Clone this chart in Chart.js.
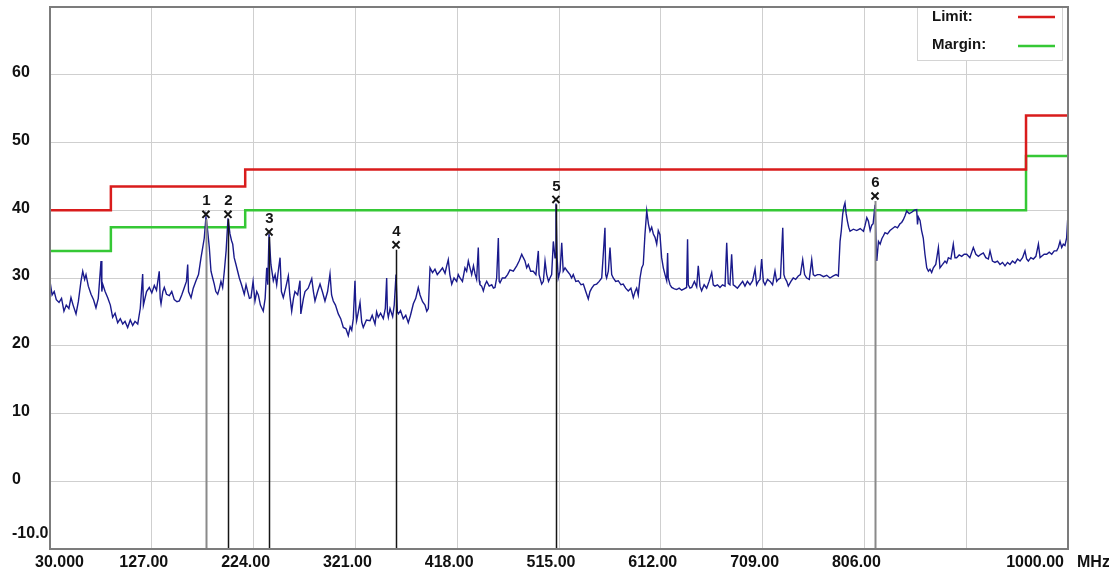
<!DOCTYPE html>
<html>
<head>
<meta charset="utf-8">
<script src="https://cdn.jsdelivr.net/npm/chart.js@4.4.1/dist/chart.umd.min.js"></script>
<style>
  html, body { margin: 0; padding: 0; background: #fff; }
  #wrap { width: 1109px; height: 574px; }
</style>
</head>
<body>
<div id="wrap"><canvas id="chartEmision" width="1109" height="574"></canvas></div>
<script>
// Barrido 30 MHz - 1 GHz (MHz / dBuV/m)
const traceFreq = [
  30.0, 32.0, 34.0, 36.0, 38.6, 41.0, 43.3, 45.5, 48.0, 50.0,
  52.0, 54.8, 57.0, 59.5, 61.2, 63.0, 64.3, 66.5, 69.1, 71.5,
  73.8, 76.0, 78.6, 79.4, 80.2, 82.5, 85.0, 87.5, 89.7, 92.0,
  94.5, 97.0, 99.3, 101.5, 104.0, 106.5, 108.8, 111.0, 113.6, 116.0,
  118.3, 119.0, 119.9, 122.0, 124.6, 127.0, 129.4, 131.5, 134.1, 135.0,
  135.8, 137.5, 138.9, 141.0, 143.7, 146.0, 148.4, 151.0, 153.2, 155.5,
  158.0, 160.0, 161.2, 162.0, 164.4, 166.5, 169.1, 171.5, 173.9, 175.5,
  177.0, 178.6, 180.2, 181.8, 183.4, 185.0, 186.5, 188.0, 189.8, 191.5,
  192.9, 194.5, 196.1, 197.8, 199.6, 201.5, 203.0, 204.1, 205.5, 207.2,
  208.8, 210.4, 212.5, 215.1, 216.8, 218.4, 220.0, 221.5, 223.5, 225.3,
  227.0, 228.5, 230.5, 233.2, 235.0, 236.5, 237.5, 238.7, 240.5, 242.8,
  244.5, 246.0, 247.5, 249.2, 250.5, 252.3, 254.5, 257.1, 258.5, 260.3,
  262.0, 263.4, 266.0, 268.2, 269.0, 271.5, 273.0, 276.0, 279.4, 281.0,
  282.5, 285.0, 287.3, 289.5, 292.0, 294.5, 296.8, 298.3, 299.9, 302.0,
  304.7, 307.0, 309.5, 312.0, 314.2, 316.0, 317.5, 319.0, 320.6, 321.5,
  322.2, 323.8, 325.4, 327.0, 328.5, 331.5, 334.9, 337.0, 339.7, 341.2,
  342.8, 345.0, 347.6, 349.5, 350.8, 351.5, 352.4, 354.0, 356.5, 358.0,
  359.7, 361.0, 361.9, 364.0, 366.6, 369.0, 371.4, 373.5, 376.2, 378.5,
  380.9, 382.6, 385.0, 387.3, 389.0, 390.5, 392.1, 394.5, 396.8, 399.0,
  401.6, 404.0, 406.4, 408.0, 409.5, 411.0, 412.8, 415.0, 417.5, 419.0,
  420.7, 423.0, 425.4, 427.0, 428.6, 430.2, 431.8, 433.5, 435.0, 436.5,
  438.1, 439.0, 439.7, 441.3, 442.9, 444.5, 446.1, 448.5, 450.9, 452.5,
  454.0, 455.6, 457.2, 458.0, 458.8, 461.0, 463.6, 466.0, 468.3, 471.5,
  474.7, 477.0, 479.5, 481.0, 482.6, 484.2, 485.8, 488.0, 490.5, 493.0,
  495.3, 496.0, 496.9, 498.5, 500.1, 501.7, 503.3, 505.0, 506.4, 508.0,
  509.6, 511.2, 512.1, 513.2, 514.3, 516.0, 517.6, 519.0, 520.7, 523.0,
  525.5, 527.0, 528.6, 531.0, 533.4, 536.0, 538.2, 540.5, 542.9, 544.5,
  546.2, 548.5, 550.9, 553.3, 555.7, 557.2, 558.8, 559.5, 560.4, 562.0,
  563.6, 565.2, 566.7, 569.0, 571.5, 574.0, 576.2, 578.5, 581.0, 583.5,
  585.8, 587.5, 589.0, 590.5, 592.2, 593.8, 595.3, 596.9, 598.6, 600.2,
  601.7, 603.3, 604.9, 606.5, 608.1, 609.6, 611.2, 612.8, 614.4, 616.0,
  617.6, 618.5, 619.1, 620.8, 622.4, 625.0, 627.1, 629.5, 631.9, 634.3,
  636.6, 637.5, 638.2, 639.8, 641.4, 644.0, 646.2, 647.7, 649.3, 650.9,
  653.3, 655.7, 658.0, 660.5, 662.0, 663.6, 666.0, 668.4, 670.8, 673.2,
  674.8, 676.3, 677.9, 679.5, 681.0, 682.7, 685.0, 687.5, 690.0, 692.2,
  694.5, 697.0, 699.5, 701.8, 703.3, 704.9, 706.5, 708.1, 709.7, 711.3,
  713.7, 716.1, 718.5, 720.8, 722.4, 724.0, 726.0, 728.2, 729.3, 730.3,
  732.0, 733.5, 736.0, 738.2, 740.5, 743.0, 745.0, 747.2, 749.0, 751.0,
  753.5, 755.8, 757.3, 758.9, 761.3, 763.7, 767.0, 770.1, 773.2, 776.4,
  779.0, 781.2, 782.8, 784.0, 785.3, 786.4, 787.5, 788.6, 789.8, 791.0,
  792.3, 795.5, 798.7, 802.0, 805.1, 806.7, 808.3, 809.8, 811.5, 813.0,
  814.3, 816.1, 817.0, 817.8, 819.4, 821.0, 822.6, 824.0, 825.6, 828.0,
  830.4, 832.8, 835.2, 837.5, 839.9, 841.5, 843.1, 844.7, 846.3, 848.7,
  851.1, 853.5, 855.8, 856.6, 857.4, 859.0, 860.5, 862.1, 863.7, 865.4,
  867.0, 868.5, 870.1, 871.7, 874.0, 876.5, 878.0, 880.5, 882.8, 884.4,
  886.0, 888.4, 890.7, 892.3, 893.9, 896.3, 898.7, 901.1, 903.5, 906.5,
  909.8, 912.2, 914.6, 917.0, 919.3, 921.7, 924.1, 925.7, 928.0, 930.4,
  932.8, 935.2, 937.6, 940.0, 942.4, 944.7, 947.1, 949.5, 951.9, 954.3,
  956.7, 959.0, 960.6, 962.2, 964.6, 967.0, 969.4, 971.8, 973.4, 974.9,
  977.3, 979.7, 982.1, 984.5, 986.9, 989.2, 990.8, 992.4, 994.0, 995.5,
  997.1, 998.7, 1000.0
];
const traceLevel = [
  29.5, 27.5, 28.0, 26.8, 26.4, 27.0, 25.1, 26.0, 25.5, 27.1,
  26.0, 24.7, 26.5, 29.5, 31.0, 29.8, 30.5, 28.8, 27.6, 26.8,
  25.6, 27.0, 32.5, 28.0, 29.1, 28.0, 27.1, 26.0, 24.2, 24.8,
  23.4, 24.0, 23.2, 23.6, 22.7, 23.8, 23.0, 23.6, 23.2, 25.5,
  30.6, 26.0, 26.6, 28.0, 28.6, 27.8, 28.9, 28.2, 31.0, 27.0,
  26.2, 28.0, 28.6, 27.6, 27.4, 28.0, 26.8, 26.5, 26.6, 27.5,
  28.6, 29.5, 32.0, 28.0, 27.1, 28.5, 29.6, 30.5, 33.0, 34.5,
  35.9, 39.0, 37.0, 34.5, 31.0, 30.0, 29.1, 28.0, 27.6, 28.5,
  29.5, 28.6, 31.0, 34.0, 38.8, 36.5, 35.5, 35.0, 33.0, 32.0,
  31.0, 30.0, 29.0, 27.6, 29.0, 28.0, 27.0, 27.1, 29.5, 26.6,
  28.0, 27.5, 26.0, 25.1, 27.0, 31.5, 29.0, 36.5, 32.0, 29.6,
  30.5, 29.0, 31.0, 33.0, 28.0, 27.1, 28.5, 30.3, 27.5, 25.1,
  27.0, 28.0, 27.5, 29.6, 24.7, 27.0, 28.0, 28.5, 29.9, 28.0,
  26.6, 28.0, 29.1, 28.0, 26.6, 28.0, 30.6, 27.5, 26.6, 26.0,
  24.7, 24.0, 22.7, 22.5, 21.5, 22.8, 22.3, 24.0, 29.6, 25.0,
  23.7, 25.0, 26.4, 23.5, 22.7, 23.8, 23.7, 24.5, 23.2, 25.0,
  24.2, 24.8, 24.0, 25.5, 30.0, 25.0, 24.2, 25.5, 24.3, 26.0,
  30.5, 25.0, 24.7, 25.2, 24.0, 24.5, 23.4, 24.5, 26.2, 27.0,
  28.6, 27.5, 26.5, 26.0, 25.1, 25.5, 31.5, 30.8, 31.3, 30.5,
  31.0, 31.5, 30.7, 31.8, 32.7, 30.5, 29.1, 30.0, 29.5, 30.5,
  30.0, 29.5, 31.5, 31.0, 32.5, 31.5, 30.5, 31.8, 30.6, 29.8,
  34.5, 29.6, 29.0, 28.8, 28.1, 29.0, 29.5, 28.8, 29.0, 28.5,
  28.6, 30.0, 35.9, 29.5, 29.3, 30.0, 30.0, 30.5, 31.2, 31.0,
  31.8, 32.5, 33.5, 33.0, 32.5, 31.5, 32.0, 31.0, 31.0, 30.5,
  34.0, 30.5, 30.0, 29.1, 29.5, 32.5, 30.5, 29.5, 30.0, 30.5,
  35.4, 33.0, 41.0, 33.0, 30.0, 31.0, 35.2, 31.0, 31.5, 31.0,
  30.5, 30.0, 30.5, 29.5, 29.6, 29.0, 29.1, 28.0, 26.9, 28.0,
  28.5, 29.0, 29.1, 29.5, 30.0, 33.5, 37.4, 30.5, 30.0, 31.0,
  34.5, 30.5, 30.0, 29.5, 29.6, 29.0, 29.1, 28.5, 28.1, 28.5,
  27.1, 28.0, 28.5, 27.5, 30.0, 31.5, 32.0, 36.4, 39.9, 38.0,
  36.9, 37.5, 36.5, 36.0, 35.0, 37.0, 36.4, 33.0, 31.5, 30.5,
  29.6, 33.7, 30.0, 29.0, 28.6, 28.4, 28.3, 28.5, 28.2, 28.4,
  28.6, 35.7, 29.0, 28.5, 28.6, 29.5, 28.7, 31.8, 28.8, 28.1,
  29.0, 28.5, 29.5, 30.8, 29.0, 28.8, 29.0, 28.6, 29.0, 28.8,
  35.2, 29.2, 29.0, 33.5, 29.0, 28.8, 28.5, 29.0, 29.5, 28.8,
  29.5, 29.0, 29.6, 31.3, 29.0, 29.5, 29.8, 32.8, 29.5, 29.0,
  29.8, 29.5, 29.0, 31.0, 29.5, 29.8, 30.0, 37.4, 30.5, 30.0,
  29.5, 28.8, 29.5, 30.0, 29.8, 30.3, 30.5, 32.7, 30.5, 30.0,
  29.8, 32.7, 30.5, 30.3, 30.5, 30.5, 30.2, 30.4, 30.0, 30.3,
  30.5, 30.3, 35.4, 37.0, 39.4, 40.5, 41.1, 39.5, 38.4, 37.5,
  36.9, 37.2, 37.0, 37.3, 36.9, 37.8, 38.9, 38.4, 37.0, 37.8,
  38.0, 40.8, 36.0, 32.5, 35.4, 35.0, 35.8, 36.2, 36.7, 36.5,
  37.0, 37.3, 37.6, 37.4, 38.0, 38.2, 38.6, 39.2, 39.9, 39.5,
  39.7, 40.0, 40.1, 37.9, 39.0, 38.5, 37.0, 35.9, 33.5, 31.5,
  31.0, 31.3, 30.8, 31.5, 32.0, 34.5, 31.5, 32.0, 32.5, 32.2,
  33.0, 32.8, 35.0, 33.0, 33.0, 33.4, 33.2, 33.5, 33.5, 33.0,
  34.5, 33.5, 33.2, 33.5, 33.7, 33.0, 32.8, 34.0, 32.5, 32.3,
  32.5, 32.0, 32.3, 31.8, 32.3, 32.0, 32.5, 32.2, 32.8, 32.5,
  33.0, 34.0, 32.8, 32.5, 33.0, 32.8, 33.2, 35.0, 33.0, 33.2,
  33.5, 33.5, 33.8, 33.5, 34.0, 34.0, 34.5, 35.4, 34.5, 35.0,
  34.8, 35.9, 39.5
];

// Limite y margen (escalones)
const limitFreq = [30, 88, 88, 216, 216, 960, 960, 1000];
const limitLevel = [40, 40, 43.5, 43.5, 46, 46, 54, 54];
const marginLevel = [34, 34, 37.5, 37.5, 40, 40, 48, 48];

// Marcadores
const markerNum = ['1', '2', '3', '4', '5', '6'];
const markerFreq = [178.6, 199.6, 238.7, 359.7, 512.1, 816.1];
const markerLevel = [39.4, 39.4, 36.8, 34.9, 41.6, 42.1];

// Ejes
const xTicks = [30, 127, 224, 321, 418, 515, 612, 709, 806, 903, 1000];
const xTickLabels = ['30.000', '127.00', '224.00', '321.00', '418.00', '515.00', '612.00', '709.00', '806.00', '', '1000.00'];
const yTicks = [-10, 0, 10, 20, 30, 40, 50, 60, 70];
const yTickLabels = ['-10.0', '0', '10', '20', '30', '40', '50', '60', ''];

const puntos = (fs, vs) => fs.map((f, i) => ({ x: f, y: vs[i] }));

const FUENTE = '"Liberation Sans", Arial, sans-serif';

const extras = {
  id: 'extras',
  afterDatasetsDraw(chart) {
    const { ctx, chartArea: a, scales: { x, y } } = chart;
    ctx.save();

    // lineas verticales de los marcadores + numero
    markerFreq.forEach((f, i) => {
      const px = Math.round(x.getPixelForValue(f)) + 0.5;
      const py = y.getPixelForValue(markerLevel[i]);
      const gris = (i === 0 || i === 5);
      ctx.strokeStyle = gris ? '#8a8a8a' : '#151515';
      ctx.lineWidth = gris ? 2 : 1.5;
      ctx.beginPath();
      ctx.moveTo(px, py + 5);
      ctx.lineTo(px, a.bottom);
      ctx.stroke();

      ctx.fillStyle = '#151515';
      ctx.font = 'bold 15px ' + FUENTE;
      ctx.textAlign = 'center';
      ctx.textBaseline = 'middle';
      ctx.fillText(markerNum[i], px, py - 13);
    });

    // leyenda
    const lx = 917, ly = a.top, lw = 145, lh = 53;
    ctx.fillStyle = '#fff';
    ctx.fillRect(lx, ly, lw, lh);
    ctx.strokeStyle = '#d4d4d4';
    ctx.lineWidth = 1;
    ctx.strokeRect(lx + 0.5, ly + 0.5, lw, lh);

    ctx.font = 'bold 15px ' + FUENTE;
    ctx.textAlign = 'left';
    ctx.textBaseline = 'middle';
    ctx.fillStyle = '#151515';
    ctx.fillText('Limit:', 932, 17);
    ctx.fillText('Margin:', 932, 45);

    ctx.lineWidth = 2.5;
    ctx.strokeStyle = '#d91c1c';
    ctx.beginPath(); ctx.moveTo(1018, 17); ctx.lineTo(1055, 17); ctx.stroke();
    ctx.strokeStyle = '#35c835';
    ctx.beginPath(); ctx.moveTo(1018, 46); ctx.lineTo(1055, 46); ctx.stroke();

    ctx.restore();
  },
  afterDraw(chart) {
    const { ctx, chartArea: a, scales: { x, y } } = chart;
    ctx.save();

    // marco del grafico
    ctx.strokeStyle = '#7c7c7c';
    ctx.lineWidth = 2;
    ctx.strokeRect(a.left, a.top, a.right - a.left, a.bottom - a.top);

    // etiquetas eje Y
    ctx.fillStyle = '#111';
    ctx.font = 'bold 16px ' + FUENTE;
    ctx.textAlign = 'left';
    ctx.textBaseline = 'middle';
    yTicks.forEach((v, i) => {
      if (!yTickLabels[i]) return;
      let py = y.getPixelForValue(v) - 2;
      if (v === -10) py = a.bottom - 15;
      ctx.fillText(yTickLabels[i], 12, py);
    });

    // etiquetas eje X
    xTicks.forEach((v, i) => {
      const txt = xTickLabels[i];
      if (!txt) return;
      const px = x.getPixelForValue(v);
      if (i === 0) {
        ctx.textAlign = 'left';
        ctx.fillText(txt, 35, 563);
      } else if (i === xTicks.length - 1) {
        ctx.textAlign = 'right';
        ctx.fillText(txt, px - 4, 563);
      } else {
        ctx.textAlign = 'center';
        ctx.fillText(txt, px - 8, 563);
      }
    });
    ctx.textAlign = 'left';
    ctx.fillText('MHz', 1077, 563);

    ctx.restore();
  }
};

const canvas = document.getElementById('chartEmision');

new Chart(canvas, {
  type: 'line',
  data: {
    datasets: [
      {
        label: 'Marcadores',
        type: 'scatter',
        data: puntos(markerFreq, markerLevel),
        pointStyle: 'crossRot',
        pointRadius: 5,
        borderColor: '#151515',
        borderWidth: 2,
        order: 0
      },
      {
        label: 'Nivel',
        data: puntos(traceFreq, traceLevel),
        borderColor: '#1a1a8c',
        borderWidth: 1.4,
        pointRadius: 0,
        tension: 0,
        order: 1
      },
      {
        label: 'Limit',
        data: puntos(limitFreq, limitLevel),
        borderColor: '#d91c1c',
        borderWidth: 2.5,
        pointRadius: 0,
        order: 2
      },
      {
        label: 'Margin',
        data: puntos(limitFreq, marginLevel),
        borderColor: '#35c835',
        borderWidth: 2.5,
        pointRadius: 0,
        order: 3
      }
    ]
  },
  options: {
    responsive: false,
    animation: false,
    layout: { padding: { left: 50, top: 4, right: 41, bottom: 25 } },
    plugins: {
      legend: { display: false },
      tooltip: { enabled: false }
    },
    scales: {
      x: {
        type: 'linear',
        min: 30,
        max: 1000,
        afterBuildTicks: s => { s.ticks = xTicks.map(v => ({ value: v })); },
        ticks: { display: false },
        grid: { color: '#cfcfcf', lineWidth: 1, drawTicks: false },
        border: { display: false }
      },
      y: {
        min: -10,
        max: 70,
        afterBuildTicks: s => { s.ticks = yTicks.map(v => ({ value: v })); },
        ticks: { display: false },
        grid: { color: '#cfcfcf', lineWidth: 1, drawTicks: false },
        border: { display: false }
      }
    }
  },
  plugins: [extras]
});
</script>
</body>
</html>
